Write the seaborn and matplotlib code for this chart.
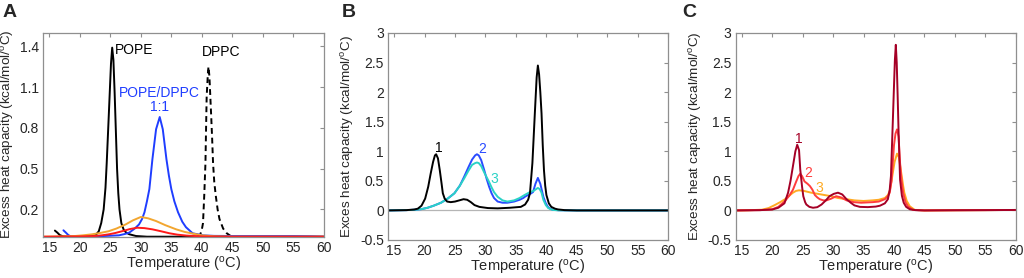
import numpy as np
import matplotlib
matplotlib.use("Agg")
import matplotlib.pyplot as plt
import seaborn as sns

# Panel A: pure lipids and the 1:1 mixture
a_pope_t = [15.9, 16.3, 16.7, 17.2, 18, 20, 22, 22.6, 23.1, 23.5, 23.9, 24.2, 24.4, 24.7, 24.9, 25.1,
            25.3, 25.5, 25.7, 25.9, 26.1, 26.3, 26.5, 26.8, 27.2, 27.6, 28.1, 29.2, 31, 35, 40, 45, 50, 55, 60]
a_pope_cp = [0.045, 0.03, 0.012, 0.003, 0.0, 0.0, 0.004, 0.012, 0.04, 0.1, 0.2, 0.36, 0.54, 0.85, 1.06, 1.27,
             1.39, 1.3, 1.06, 0.78, 0.5, 0.32, 0.2, 0.1, 0.05, 0.03, 0.018, 0.005, 0.0, 0, 0, 0, 0, 0, 0]

a_mix_t = [17.3, 17.7, 18.1, 18.6, 20, 23, 26.4, 27.4, 28.1, 29, 29.7, 30.2, 30.6, 31, 31.4, 31.9, 32.5,
           33.1, 33.6, 34.2, 34.6, 35, 35.5, 36.1, 36.8, 37.4, 38.5, 40.2, 42, 45, 50, 55, 58, 60]
a_mix_cp = [0.047, 0.03, 0.012, 0.0, 0.0, 0.003, 0.01, 0.02, 0.03, 0.06, 0.09, 0.13, 0.18, 0.26, 0.35, 0.57, 0.79,
            0.88, 0.79, 0.57, 0.45, 0.35, 0.26, 0.18, 0.11, 0.07, 0.025, 0.01, 0.006, 0.005, 0.005, 0.005, 0.003, 0.0]

a_orange_t = [14, 17, 19.2, 20.5, 21.9, 23.3, 24.7, 26, 27.5, 28.7, 30, 31.2, 32.5, 34, 35.8, 37.2, 38.6,
              40, 42, 45, 50, 55, 60]
a_orange_cp = [0, 0.002, 0.005, 0.01, 0.017, 0.027, 0.04, 0.06, 0.09, 0.12, 0.145, 0.135, 0.115, 0.085, 0.054,
               0.035, 0.022, 0.01, 0.003, 0, 0, 0, 0]

a_red_t = [14, 20, 22.5, 23.6, 24.7, 25.8, 26.9, 28.2, 29.4, 30.6, 31.9, 33.3, 34.7, 36, 37.5, 40, 45, 50, 55, 60]
a_red_cp = [0, 0.002, 0.005, 0.01, 0.017, 0.027, 0.04, 0.056, 0.066, 0.063, 0.054, 0.04, 0.025, 0.015, 0.008,
            0.002, 0, 0, 0, 0]

a_dppc_t = [39.3, 39.7, 40.0, 40.2, 40.4, 40.6, 40.7, 40.8, 41.0, 41.1, 41.25, 41.4, 41.55, 41.7, 41.85,
            42.05, 42.3, 42.6, 42.9, 43.5, 44.1, 44.9]
a_dppc_cp = [0.0, 0.01, 0.05, 0.1, 0.3, 0.54, 0.79, 1.03, 1.2, 1.25, 1.18, 1.03, 0.88, 0.72, 0.54,
             0.4, 0.3, 0.2, 0.13, 0.06, 0.025, 0.0]

# Panel B
b1_t = [14, 17, 18.3, 18.9, 19.5, 20.1, 20.6, 21.0, 21.4, 21.7, 21.9, 22.2, 22.5, 22.8, 23.0, 23.3, 23.7,
        24.3, 25.0, 25.7, 26.4, 27.0, 27.6, 28.2, 29.0, 30.4, 32, 34, 35.8, 36.5, 37.0, 37.3, 37.7, 38.1,
        38.4, 38.6, 38.8, 39.0, 39.2, 39.4, 39.6, 39.8, 40.0, 40.4, 40.8, 41.4, 41.9, 43, 45, 50, 55, 60]
b1_cp = [0.0, 0.005, 0.015, 0.03, 0.08, 0.2, 0.4, 0.62, 0.82, 0.93, 0.95, 0.88, 0.68, 0.45, 0.29, 0.2, 0.15,
         0.14, 0.15, 0.17, 0.19, 0.18, 0.14, 0.09, 0.06, 0.04, 0.035, 0.045, 0.06, 0.1, 0.18, 0.29, 0.8, 1.64,
         2.25, 2.45, 2.3, 2.0, 1.64, 1.1, 0.68, 0.42, 0.26, 0.12, 0.06, 0.03, 0.017, 0.005, 0, 0, 0, 0]

b2_t = [14, 17, 18.5, 19.5, 20.5, 21.5, 22.7, 23.8, 24.9, 25.8, 26.5, 27.2, 27.8, 28.3, 28.6, 28.9, 29.3,
        29.8, 30.2, 30.6, 31.0, 31.4, 32.0, 32.8, 33.6, 34.7, 35.6, 36.2, 36.6, 37.2, 37.8, 38.2, 38.6, 39.0,
        39.5, 39.9, 40.3, 40.7, 41.1, 42, 45, 50, 55, 60]
b2_cp = [0, 0.005, 0.012, 0.022, 0.045, 0.08, 0.13, 0.2, 0.29, 0.42, 0.57, 0.73, 0.86, 0.93, 0.95, 0.93, 0.85,
         0.68, 0.53, 0.4, 0.29, 0.21, 0.15, 0.13, 0.13, 0.15, 0.18, 0.21, 0.24, 0.27, 0.31, 0.45, 0.55, 0.45,
         0.23, 0.12, 0.05, 0.025, 0.01, 0.003, 0, 0, 0, 0]

b3_t = [14, 17, 18.5, 19.5, 20.5, 21.5, 22.7, 23.8, 24.9, 25.8, 26.5, 27.2, 27.8, 28.3, 28.6, 28.9, 29.3,
        29.8, 30.2, 30.6, 31.0, 31.4, 32.0, 32.8, 33.6, 34.7, 35.6, 36.4, 37.3, 37.9, 38.3, 38.6, 38.9, 39.2,
        39.5, 39.9, 40.3, 40.7, 41.1, 42, 45, 50, 55, 60]
b3_cp = [0, 0.005, 0.012, 0.022, 0.045, 0.08, 0.13, 0.2, 0.29, 0.42, 0.54, 0.67, 0.77, 0.8, 0.81, 0.8, 0.75,
         0.64, 0.56, 0.48, 0.39, 0.31, 0.23, 0.17, 0.15, 0.17, 0.21, 0.26, 0.31, 0.33, 0.36, 0.38, 0.36, 0.3,
         0.18, 0.09, 0.04, 0.02, 0.008, 0.002, 0, 0, 0, 0]

# Panel C
c1_t = [14, 18, 20, 21, 22, 22.6, 23.0, 23.4, 23.8, 24.1, 24.4, 24.6, 24.9, 25.1, 25.4, 25.6, 26.1, 26.7,
        27.4, 28.1, 28.8, 29.4, 30.1, 30.8, 31.5, 32.2, 32.9, 33.5, 34.4, 35.7, 37, 37.7, 38.5, 39.0, 39.3,
        39.5, 39.8, 40.0, 40.15, 40.3, 40.45, 40.6, 40.75, 41.0, 41.3, 41.6, 42.0, 42.6, 43.5, 45, 50, 55, 60]
c1_cp = [0, 0.005, 0.015, 0.045, 0.12, 0.3, 0.5, 0.75, 1.0, 1.11, 1.02, 0.69, 0.4, 0.24, 0.14, 0.1, 0.06, 0.045,
         0.055, 0.1, 0.17, 0.24, 0.28, 0.3, 0.27, 0.19, 0.13, 0.085, 0.06, 0.056, 0.065, 0.08, 0.12, 0.19, 0.35,
         0.58, 1.48, 2.1, 2.55, 2.8, 2.5, 1.95, 1.35, 0.52, 0.25, 0.13, 0.06, 0.02, 0.005, 0, 0.003, 0.005, 0.008]

c2_t = [14, 18, 20, 21, 22.1, 22.8, 23.4, 23.9, 24.3, 24.6, 24.9, 25.3, 25.8, 26.2, 26.6, 27.0, 27.4, 27.8,
        28.4, 28.9, 29.7, 30.5, 31.3, 32.2, 33.4, 34.6, 36.5, 37.5, 38.5, 39.0, 39.3, 39.6, 39.8, 40.0, 40.25,
        40.5, 40.75, 41.0, 41.25, 41.5, 41.9, 42.3, 43.1, 44, 45, 50, 55, 60]
c2_cp = [0, 0.005, 0.02, 0.06, 0.16, 0.25, 0.35, 0.48, 0.58, 0.62, 0.58, 0.49, 0.45, 0.41, 0.35, 0.26, 0.22,
         0.19, 0.17, 0.17, 0.2, 0.24, 0.22, 0.17, 0.14, 0.13, 0.14, 0.15, 0.19, 0.24, 0.3, 0.5, 0.8, 1.1, 1.3,
         1.37, 1.25, 0.8, 0.5, 0.3, 0.14, 0.07, 0.01, 0.003, 0, 0.003, 0.005, 0.008]

c3_t = [14, 16, 18.3, 19.4, 20.4, 21.3, 22.1, 22.8, 23.4, 23.9, 24.4, 25.2, 26.4, 27.5, 28.6, 29.7, 30.8,
        32.2, 33.5, 35, 36.5, 37.5, 38.5, 39.0, 39.3, 39.6, 39.8, 40.1, 40.5, 40.8, 41.2, 41.5, 41.7, 42.1,
        42.6, 43.4, 44.5, 45, 50, 55, 60]
c3_cp = [0, 0.003, 0.012, 0.04, 0.09, 0.14, 0.19, 0.25, 0.3, 0.33, 0.34, 0.33, 0.3, 0.28, 0.26, 0.24, 0.21,
         0.19, 0.17, 0.16, 0.17, 0.18, 0.21, 0.26, 0.33, 0.5, 0.63, 0.82, 0.96, 0.9, 0.63, 0.42, 0.3, 0.16,
         0.07, 0.01, 0.003, 0, 0.003, 0.005, 0.008]

x_ticks = [15, 20, 25, 30, 35, 40, 45, 50, 55, 60]
a_yticks = [0.2, 0.5, 0.8, 1.1, 1.4]
bc_yticks = [-0.5, 0, 0.5, 1, 1.5, 2, 2.5, 3]
bc_yticklabels = ["-0.5", "0", "0.5", "1", "1.5", "2", "2.5", "3"]

sns.set_style("white")
plt.rcParams["font.family"] = ["Liberation Sans", "DejaVu Sans"]
plt.rcParams["mathtext.default"] = "regular"

spine_col = "#8f8f8f"
text_col = "#262626"

fig = plt.figure(figsize=(10.24, 2.78), dpi=100)
ax_a = fig.add_axes([0.0423, 0.1486, 0.2738, 0.7338])
ax_b = fig.add_axes([0.3789, 0.1367, 0.2737, 0.7446])
ax_c = fig.add_axes([0.7185, 0.1367, 0.2734, 0.7446])


def curve(ax, t, cp, color, **kw):
    sns.lineplot(x=t, y=cp, ax=ax, color=color, lw=1.4, **kw)


def style(ax, ylabel):
    ax.set_xlim(14, 60)
    ax.set_xticks(x_ticks)
    for s in ax.spines.values():
        s.set_color(spine_col)
        s.set_linewidth(0.9)
        s.set_visible(True)
    ax.tick_params(direction="in", top=True, right=True, length=3, width=0.8,
                   color=spine_col, labelsize=10, labelcolor=text_col, pad=3)
    ax.set_xlabel("Temperature ($^{o}$C)", fontsize=10.5, color=text_col, labelpad=0)
    ax.set_ylabel(ylabel, fontsize=9.7, color=text_col, labelpad=3)


# A
curve(ax_a, a_pope_t, a_pope_cp, "black")
curve(ax_a, a_dppc_t, a_dppc_cp, "black", dashes=(3.0, 2.0))
curve(ax_a, a_mix_t, a_mix_cp, "#1f3dff")
curve(ax_a, a_orange_t, a_orange_cp, "#f2a630")
curve(ax_a, a_red_t, a_red_cp, "#ff1a1a")
ax_a.set_ylim(0, 1.5)
ax_a.set_yticks(a_yticks)
ax_a.text(25.7, 1.37, "POPE", fontsize=10, color="black", va="center")
ax_a.text(43.1, 1.36, "DPPC", fontsize=10, color="black", va="center", ha="center")
ax_a.text(33.1, 1.06, "POPE/DPPC", fontsize=10, color="#1f3dff", va="center", ha="center")
ax_a.text(33.1, 0.95, "1:1", fontsize=10, color="#1f3dff", va="center", ha="center")
style(ax_a, "Excess heat capacity (kcal/mol/$^{o}$C)")

# B
ax_b.axhline(0, color="#b5b5b5", lw=0.9, zorder=0)
curve(ax_b, b2_t, b2_cp, "#2a4bff")
curve(ax_b, b3_t, b3_cp, "#2ad2c6")
curve(ax_b, b1_t, b1_cp, "black")
ax_b.set_ylim(-0.5, 3)
ax_b.set_yticks(bc_yticks)
ax_b.set_yticklabels(bc_yticklabels)
ax_b.text(22.3, 1.06, "1", fontsize=10, color="black", ha="center", va="center")
ax_b.text(29.4, 1.04, "2", fontsize=10, color="#2a4bff", ha="center", va="center")
ax_b.text(31.4, 0.53, "3", fontsize=10, color="#2ad2c6", ha="center", va="center")
style(ax_b, "Exces heat capacity (kcal/mol/$^{o}$C)")

# C
ax_c.axhline(0, color="#b5b5b5", lw=0.9, zorder=0)
curve(ax_c, c3_t, c3_cp, "#ffaa22")
curve(ax_c, c2_t, c2_cp, "#ff3d3d")
curve(ax_c, c1_t, c1_cp, "#a50026")
ax_c.set_ylim(-0.5, 3)
ax_c.set_yticks(bc_yticks)
ax_c.set_yticklabels(bc_yticklabels)
ax_c.text(24.4, 1.21, "1", fontsize=10, color="#a50026", ha="center", va="center")
ax_c.text(25.9, 0.64, "2", fontsize=10, color="#ff3d3d", ha="center", va="center")
ax_c.text(27.8, 0.38, "3", fontsize=10, color="#ffaa22", ha="center", va="center")
style(ax_c, "Excess heat capacity (kcal/mol/$^{o}$C)")

for x, lab in [(0.002, "A"), (0.334, "B"), (0.666, "C")]:
    fig.text(x, 0.985, lab, fontsize=14, fontweight="bold", va="top", ha="left")

fig.savefig("out.png", dpi=100)
